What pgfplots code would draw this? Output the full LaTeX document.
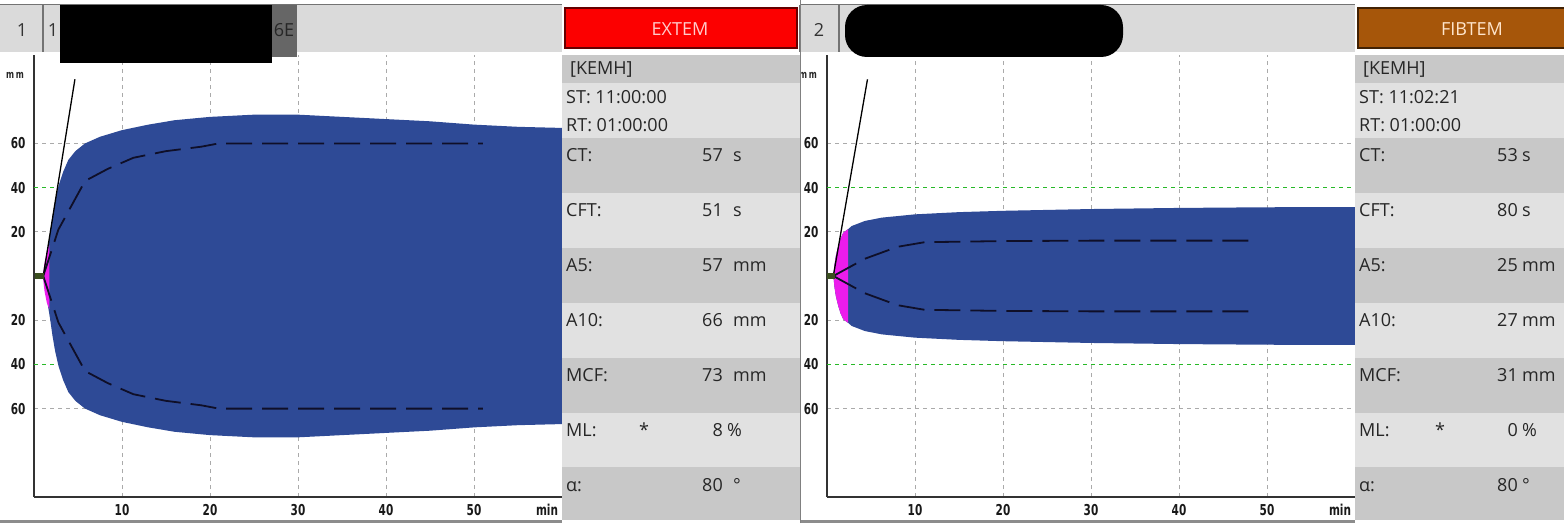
\documentclass[border=0pt]{standalone}
\usepackage{fontspec}
\setmainfont{Open Sans}
\newfontfamily\tickfont{DejaVu Sans Bold}[FakeStretch=0.7]
\usepackage{pgfplots}
\pgfplotsset{compat=1.18}
\definecolor{rotblue}{RGB}{46,74,150}
\definecolor{rotpink}{RGB}{236,28,236}
\definecolor{gridgray}{RGB}{170,170,170}
\definecolor{gridgreen}{RGB}{40,185,40}
\definecolor{hdrgray}{RGB}{218,218,218}
\definecolor{rowdark}{RGB}{200,200,200}
\definecolor{rowlight}{RGB}{225,225,225}
\definecolor{extred}{RGB}{252,0,0}
\definecolor{fibbrown}{RGB}{166,86,10}
\definecolor{olivemark}{RGB}{58,78,30}
\definecolor{dashcol}{RGB}{15,15,40}
\pgfplotsset{rotem/.style={
  scale only axis, width=528pt, height=442pt,
  xmin=0, xmax=60, ymin=-100, ymax=100,
  axis x line*=bottom, axis y line*=left,
  axis line style={line width=1.6pt, draw=black!80, -},
  xtick={10,20,30,40,50}, xticklabels={10,20,30,40,50},
  extra x ticks={58.3}, extra x tick labels={min}, extra x tick style={grid=none},
  ytick={-60,-20,20,60}, yticklabels={60,20,20,60},
  extra y ticks={-40,40}, extra y tick labels={40,40}, extra y tick style={grid=none},
  major tick length=0pt,
  grid style={gridgray, dash pattern=on 4pt off 4pt, line width=0.8pt},
  xmajorgrids, ymajorgrids,
  tick label style={font=\tickfont\fontsize{15}{16}\selectfont, text=black!90},
  xticklabel style={yshift=-4pt},
  yticklabel style={xshift=-5pt},
}}
\def\valx{161}
\def\unitx{171}
\newcommand{\prow}[4]{%
  \node[anchor=base west,inner sep=0pt] at (4,516.5-#1) {#2};
  \node[anchor=base east,inner sep=0pt] at (\valx,516.5-#1) {#3};
  \node[anchor=base west,inner sep=0pt] at (\unitx,516.5-#1) {#4};}
\begin{document}
\begin{tikzpicture}[x=1pt,y=1pt]
\useasboundingbox (0,0) rectangle (1564,523);
% bottom strip
\fill[black!45] (0,0) rectangle (562,3);
\fill[black!45] (800,0) rectangle (1355,3);
% header bars
\fill[hdrgray] (0,471) rectangle (562,518);
\draw[black!55, line width=1pt] (0,518) -- (562,518);
\draw[black!55, line width=1.2pt] (43,471) -- (43,518);
\node[font=\fontsize{18}{20}\selectfont, text=black!80] at (22,493) {1};
\node[font=\fontsize{18}{20}\selectfont, text=black!80] at (53,493) {1};
\fill[hdrgray] (800,471) rectangle (1355,518);
\draw[black!55, line width=1pt] (800,518) -- (1355,518);
\draw[black!55, line width=1.2pt] (800,471) -- (800,518);
\draw[black!55, line width=1.2pt] (839,471) -- (839,518);
\node[font=\fontsize{18}{20}\selectfont, text=black!80] at (819,493) {2};

% ---------- EXTEM ----------
\begin{axis}[rotem, at={(34pt,26pt)}, anchor=south west]
\addplot[gridgreen, dash pattern=on 4pt off 4pt, line width=1pt] coordinates {(0,40)(60,40)};
\addplot[gridgreen, dash pattern=on 4pt off 4pt, line width=1pt] coordinates {(0,-40)(60,-40)};
\addplot[fill=rotblue, draw=none] coordinates {
(1.05,0)(1.4,8)(1.65,14)(1.85,20)(2.1,27)(2.4,34)(2.8,41)(3.3,47)(3.9,52.5)(4.7,56.5)(5.8,60)(7.5,63)(10,66)(13,68.5)(16,70.5)(20,72)(25,73)(30,73)(35,72)(40,71)(45,70)(50,68.5)(55,67.5)(60,67)
(60,-67)(55,-67.5)(50,-68.5)(45,-70)(40,-71)(35,-72)(30,-73)(25,-73)(20,-72)(16,-70.5)(13,-68.5)(10,-66)(7.5,-63)(5.8,-60)(4.7,-56.5)(3.9,-52.5)(3.3,-47)(2.8,-41)(2.4,-34)(2.1,-27)(1.85,-20)(1.65,-15)(1.4,-9)(1.05,0)};
\addplot[fill=rotpink, draw=none] coordinates {
(1.0,0)(1.2,6)(1.45,11)(1.75,14)(1.75,-15)(1.45,-12)(1.2,-7)(1.0,0)};
\addplot[dashcol, line width=1.8pt, dash pattern=on 26pt off 10pt] coordinates {
(1.05,0)(2.77,21)(5.8,43)(8.4,48.5)(11.3,53.5)(15,56.5)(19,58.5)(21,60)(51,60)};
\addplot[dashcol, line width=1.8pt, dash pattern=on 26pt off 10pt] coordinates {
(1.05,0)(2.77,-21)(5.8,-43)(8.4,-48.5)(11.3,-53.5)(15,-56.5)(19,-58.5)(21,-60)(51,-60)};
\addplot[black, line width=1.3pt] coordinates {(1.05,0)(4.65,89)};
\addplot[olivemark, line width=6pt] coordinates {(0.1,0)(1.15,0)};
\end{axis}

% ---------- FIBTEM ----------
\begin{axis}[rotem, at={(827pt,26pt)}, anchor=south west]
\addplot[gridgreen, dash pattern=on 4pt off 4pt, line width=1pt] coordinates {(0,40)(60,40)};
\addplot[gridgreen, dash pattern=on 4pt off 4pt, line width=1pt] coordinates {(0,-40)(60,-40)};
\addplot[fill=rotblue, draw=none] coordinates {
(0.72,0)(0.85,5)(1.0,9)(1.28,13.6)(1.55,17)(1.85,19.6)(2.4,21.2)(2.8,22.6)(4.3,24.9)(6.2,26.4)(10,27.9)(15,28.9)(20,29.5)(30,30.3)(40,30.8)(50,31.1)(60,31.2)
(60,-31.2)(50,-31.1)(40,-30.8)(30,-30.3)(20,-29.5)(15,-28.9)(10,-27.9)(6.2,-26.4)(4.3,-24.9)(2.8,-22.6)(2.4,-21.2)(1.85,-19.6)(1.55,-17)(1.28,-13.6)(1.0,-9)(0.85,-5)(0.72,0)};
\addplot[fill=rotpink, draw=none] coordinates {
(0.72,0)(0.85,5)(1.0,9)(1.28,13.6)(1.55,17)(1.85,19.6)(2.4,21.2)(2.4,-21.2)(1.85,-19.6)(1.55,-17)(1.28,-13.6)(1.0,-9)(0.85,-5)(0.72,0)};
\addplot[dashcol, line width=1.8pt, dash pattern=on 26pt off 10pt] coordinates {
(0.72,0)(4.3,7.8)(8,13.2)(11.1,15.3)(20,15.8)(30,16)(48.7,16)};
\addplot[dashcol, line width=1.8pt, dash pattern=on 26pt off 10pt] coordinates {
(0.72,0)(4.3,-7.8)(8,-13.2)(11.1,-15.3)(20,-15.8)(30,-16)(48.7,-16)};
\addplot[black, line width=1.3pt] coordinates {(0.72,0)(4.6,89)};
\addplot[olivemark, line width=6pt] coordinates {(0.05,0)(0.9,0)};
\end{axis}

% mm labels
\node[font=\tickfont\fontsize{11}{12}\selectfont, text=black!85] at (15,448) {m\,m};
\node[font=\tickfont\fontsize{11}{12}\selectfont, text=black!85] at (808,448) {m\,m};

% redactions
\fill[black] (60,460) rectangle (272,518);
\fill[black!60] (272,466) rectangle (297,518);
\node[font=\fontsize{18}{20}\selectfont, text=black!85] at (284,493) {6E};
\fill[black, rounded corners=22pt] (845,466) rectangle (1123,518);

% ---------- EXTEM panel ----------
\begin{scope}[shift={(562pt,0pt)}, font=\fontsize{18}{21}\selectfont, text=black!85]
\fill[extred] (3,475) rectangle (235,515);
\draw[black!60!red, line width=1.2pt] (3,475) rectangle (235,515);
\node[text=red!20!white] at (118,494) {EXTEM};
\fill[rowdark] (0,440) rectangle (238,468);
\fill[rowlight] (0,385) rectangle (238,440);
\fill[rowdark] (0,330) rectangle (238,385);
\fill[rowlight] (0,275) rectangle (238,330);
\fill[rowdark] (0,220) rectangle (238,275);
\fill[rowlight] (0,165) rectangle (238,220);
\fill[rowdark] (0,110) rectangle (238,165);
\fill[rowlight] (0,56) rectangle (238,110);
\fill[rowdark] (0,3) rectangle (238,56);
\draw[black!50, line width=1pt] (238,0) -- (238,523);
\node[anchor=base west,inner sep=0pt] at (8,516.5-68) {[KEMH]};
\node[anchor=base west,inner sep=0pt] at (4,516.5-97) {ST: 11:00:00};
\node[anchor=base west,inner sep=0pt] at (4,516.5-125) {RT: 01:00:00};
\prow{155}{CT:}{57}{s}
\prow{210}{CFT:}{51}{s}
\prow{265}{A5:}{57}{mm}
\prow{320}{A10:}{66}{mm}
\prow{375}{MCF:}{73}{mm}
\node[anchor=base west,inner sep=0pt] at (4,516.5-430) {ML:};
\node[anchor=base,inner sep=0pt] at (82,516.5-430) {*};
\node[anchor=base east,inner sep=0pt] at (\valx,516.5-430) {8};
\node[anchor=base west,inner sep=0pt] at (165,516.5-430) {\%};
\prow{485}{α:}{80}{°}
\end{scope}

% ---------- FIBTEM panel ----------
\def\valx{163}
\def\unitx{167}
\begin{scope}
\clip (1355,0) rectangle (1564,523);
\begin{scope}[shift={(1355pt,0pt)}, font=\fontsize{18}{21}\selectfont, text=black!85]
\fill[fibbrown] (3,475) rectangle (235,515);
\draw[black!60!fibbrown, line width=1.2pt] (3,475) rectangle (235,515);
\node[text=orange!20!white] at (117,494) {FIBTEM};
\fill[rowdark] (0,440) rectangle (238,468);
\fill[rowlight] (0,385) rectangle (238,440);
\fill[rowdark] (0,330) rectangle (238,385);
\fill[rowlight] (0,275) rectangle (238,330);
\fill[rowdark] (0,220) rectangle (238,275);
\fill[rowlight] (0,165) rectangle (238,220);
\fill[rowdark] (0,110) rectangle (238,165);
\fill[rowlight] (0,56) rectangle (238,110);
\fill[rowdark] (0,3) rectangle (238,56);
\node[anchor=base west,inner sep=0pt] at (8,516.5-68) {[KEMH]};
\node[anchor=base west,inner sep=0pt] at (4,516.5-97) {ST: 11:02:21};
\node[anchor=base west,inner sep=0pt] at (4,516.5-125) {RT: 01:00:00};
\prow{155}{CT:}{53}{s}
\prow{210}{CFT:}{80}{s}
\prow{265}{A5:}{25}{mm}
\prow{320}{A10:}{27}{mm}
\prow{375}{MCF:}{31}{mm}
\node[anchor=base west,inner sep=0pt] at (4,516.5-430) {ML:};
\node[anchor=base,inner sep=0pt] at (85,516.5-430) {*};
\node[anchor=base east,inner sep=0pt] at (\valx,516.5-430) {0};
\node[anchor=base west,inner sep=0pt] at (\unitx,516.5-430) {\%};
\prow{485}{α:}{80}{°}
\end{scope}
\end{scope}
\end{tikzpicture}
\end{document}
